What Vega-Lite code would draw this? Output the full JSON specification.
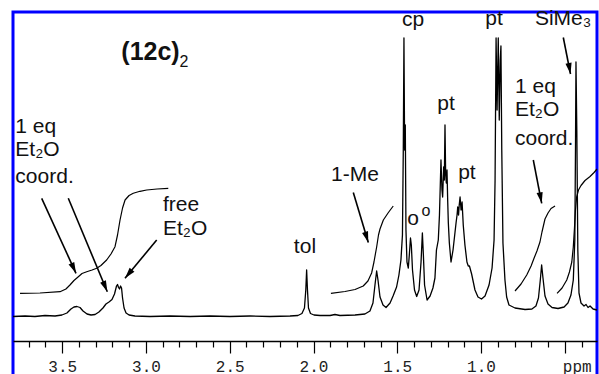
{
  "$schema": "https://vega.github.io/schema/vega-lite/v6.json",
  "width": 584,
  "height": 370,
  "autosize": {"type": "none"},
  "padding": {"left": 13, "top": 12, "right": 2, "bottom": 0},
  "background": "white",
  "config": {
    "view": {"stroke": "#0000ff", "strokeWidth": 3},
    "text": {"font": "Liberation Sans", "color": "#111"}
  },
  "datasets": {
    "spec": [
      {"ppm": 3.794, "int": -0.5}, {"ppm": 3.722, "int": 0}, {"ppm": 3.663, "int": -0.5}, {"ppm": 3.603, "int": 0.5},
      {"ppm": 3.543, "int": 0}, {"ppm": 3.502, "int": 1}, {"ppm": 3.472, "int": 3}, {"ppm": 3.448, "int": 7},
      {"ppm": 3.430, "int": 9}, {"ppm": 3.412, "int": 9.5}, {"ppm": 3.394, "int": 8.5}, {"ppm": 3.376, "int": 5},
      {"ppm": 3.352, "int": 2}, {"ppm": 3.328, "int": 1}, {"ppm": 3.304, "int": 1.5}, {"ppm": 3.281, "int": 4},
      {"ppm": 3.257, "int": 8}, {"ppm": 3.239, "int": 12}, {"ppm": 3.221, "int": 14}, {"ppm": 3.203, "int": 16.5},
      {"ppm": 3.188, "int": 22}, {"ppm": 3.176, "int": 30}, {"ppm": 3.170, "int": 31.5}, {"ppm": 3.164, "int": 28.5},
      {"ppm": 3.158, "int": 27}, {"ppm": 3.152, "int": 30}, {"ppm": 3.146, "int": 28}, {"ppm": 3.140, "int": 18},
      {"ppm": 3.131, "int": 8}, {"ppm": 3.119, "int": 3}, {"ppm": 3.101, "int": 1}, {"ppm": 3.066, "int": 0},
      {"ppm": 2.976, "int": -0.5}, {"ppm": 2.857, "int": 0}, {"ppm": 2.737, "int": -0.5}, {"ppm": 2.618, "int": 0},
      {"ppm": 2.499, "int": -0.5}, {"ppm": 2.379, "int": 0}, {"ppm": 2.260, "int": -0.5}, {"ppm": 2.140, "int": 0},
      {"ppm": 2.093, "int": 0.5}, {"ppm": 2.069, "int": 2.5}, {"ppm": 2.054, "int": 8}, {"ppm": 2.046, "int": 26},
      {"ppm": 2.041, "int": 46}, {"ppm": 2.036, "int": 26}, {"ppm": 2.030, "int": 8}, {"ppm": 2.018, "int": 2.5},
      {"ppm": 1.997, "int": 1}, {"ppm": 1.961, "int": 0.5}, {"ppm": 1.901, "int": 0.5}, {"ppm": 1.872, "int": 1.5},
      {"ppm": 1.842, "int": 0.5}, {"ppm": 1.752, "int": 1}, {"ppm": 1.693, "int": 2}, {"ppm": 1.663, "int": 5},
      {"ppm": 1.645, "int": 13}, {"ppm": 1.633, "int": 31}, {"ppm": 1.623, "int": 45}, {"ppm": 1.615, "int": 36},
      {"ppm": 1.603, "int": 19}, {"ppm": 1.585, "int": 11}, {"ppm": 1.567, "int": 8.5}, {"ppm": 1.543, "int": 13},
      {"ppm": 1.525, "int": 20}, {"ppm": 1.504, "int": 29}, {"ppm": 1.490, "int": 41}, {"ppm": 1.478, "int": 56},
      {"ppm": 1.469, "int": 81}, {"ppm": 1.464, "int": 166}, {"ppm": 1.460, "int": 278}, {"ppm": 1.456, "int": 166},
      {"ppm": 1.452, "int": 191}, {"ppm": 1.448, "int": 86}, {"ppm": 1.442, "int": 54}, {"ppm": 1.434, "int": 48},
      {"ppm": 1.428, "int": 61}, {"ppm": 1.421, "int": 78}, {"ppm": 1.416, "int": 71}, {"ppm": 1.409, "int": 46},
      {"ppm": 1.397, "int": 26}, {"ppm": 1.384, "int": 19.5}, {"ppm": 1.370, "int": 26}, {"ppm": 1.358, "int": 54},
      {"ppm": 1.350, "int": 83}, {"ppm": 1.344, "int": 61}, {"ppm": 1.337, "int": 31}, {"ppm": 1.322, "int": 16},
      {"ppm": 1.304, "int": 20}, {"ppm": 1.287, "int": 28}, {"ppm": 1.275, "int": 38}, {"ppm": 1.266, "int": 66},
      {"ppm": 1.255, "int": 76}, {"ppm": 1.248, "int": 101}, {"ppm": 1.239, "int": 156}, {"ppm": 1.233, "int": 126},
      {"ppm": 1.229, "int": 119}, {"ppm": 1.223, "int": 149}, {"ppm": 1.219, "int": 136}, {"ppm": 1.215, "int": 191},
      {"ppm": 1.211, "int": 141}, {"ppm": 1.207, "int": 133}, {"ppm": 1.203, "int": 146}, {"ppm": 1.199, "int": 116},
      {"ppm": 1.195, "int": 93}, {"ppm": 1.189, "int": 73}, {"ppm": 1.179, "int": 54}, {"ppm": 1.167, "int": 66},
      {"ppm": 1.155, "int": 84}, {"ppm": 1.149, "int": 93}, {"ppm": 1.143, "int": 101}, {"ppm": 1.139, "int": 109},
      {"ppm": 1.134, "int": 101}, {"ppm": 1.130, "int": 111}, {"ppm": 1.125, "int": 119}, {"ppm": 1.119, "int": 106},
      {"ppm": 1.113, "int": 114}, {"ppm": 1.106, "int": 91}, {"ppm": 1.096, "int": 71}, {"ppm": 1.084, "int": 54},
      {"ppm": 1.076, "int": 50}, {"ppm": 1.069, "int": 50}, {"ppm": 1.056, "int": 42}, {"ppm": 1.036, "int": 26},
      {"ppm": 1.018, "int": 19}, {"ppm": 0.997, "int": 17}, {"ppm": 0.976, "int": 20}, {"ppm": 0.952, "int": 31},
      {"ppm": 0.934, "int": 48}, {"ppm": 0.922, "int": 76}, {"ppm": 0.916, "int": 136}, {"ppm": 0.910, "int": 278},
      {"ppm": 0.904, "int": 206}, {"ppm": 0.897, "int": 278}, {"ppm": 0.891, "int": 196}, {"ppm": 0.885, "int": 256},
      {"ppm": 0.881, "int": 270}, {"ppm": 0.876, "int": 166}, {"ppm": 0.869, "int": 73}, {"ppm": 0.857, "int": 36},
      {"ppm": 0.847, "int": 19}, {"ppm": 0.833, "int": 11}, {"ppm": 0.797, "int": 8}, {"ppm": 0.737, "int": 6.5},
      {"ppm": 0.696, "int": 7}, {"ppm": 0.672, "int": 10}, {"ppm": 0.657, "int": 18}, {"ppm": 0.646, "int": 36},
      {"ppm": 0.638, "int": 51}, {"ppm": 0.630, "int": 38}, {"ppm": 0.618, "int": 20}, {"ppm": 0.600, "int": 12},
      {"ppm": 0.576, "int": 8.5}, {"ppm": 0.540, "int": 7.5}, {"ppm": 0.504, "int": 9}, {"ppm": 0.481, "int": 13},
      {"ppm": 0.463, "int": 21}, {"ppm": 0.449, "int": 36}, {"ppm": 0.440, "int": 76}, {"ppm": 0.436, "int": 166},
      {"ppm": 0.433, "int": 254}, {"ppm": 0.428, "int": 186}, {"ppm": 0.422, "int": 66}, {"ppm": 0.415, "int": 23},
      {"ppm": 0.403, "int": 13}, {"ppm": 0.385, "int": 10}, {"ppm": 0.373, "int": 11.5}, {"ppm": 0.361, "int": 8.5},
      {"ppm": 0.349, "int": 10}, {"ppm": 0.331, "int": 7}, {"ppm": 0.3075, "int": 6}
    ],
    "integ": [
      {"seg": "a", "ppm": 3.752, "int": 22.7}, {"seg": "a", "ppm": 3.633, "int": 23}, {"seg": "a", "ppm": 3.513, "int": 24.3},
      {"seg": "a", "ppm": 3.478, "int": 27}, {"seg": "a", "ppm": 3.454, "int": 31}, {"seg": "a", "ppm": 3.430, "int": 35.5},
      {"seg": "a", "ppm": 3.404, "int": 39.3}, {"seg": "a", "ppm": 3.382, "int": 42.5}, {"seg": "a", "ppm": 3.354, "int": 44.3},
      {"seg": "a", "ppm": 3.322, "int": 46}, {"seg": "a", "ppm": 3.294, "int": 47.7}, {"seg": "a", "ppm": 3.269, "int": 50.5},
      {"seg": "a", "ppm": 3.235, "int": 56}, {"seg": "a", "ppm": 3.209, "int": 62}, {"seg": "a", "ppm": 3.185, "int": 69.3},
      {"seg": "a", "ppm": 3.170, "int": 81}, {"seg": "a", "ppm": 3.155, "int": 96}, {"seg": "a", "ppm": 3.140, "int": 108},
      {"seg": "a", "ppm": 3.125, "int": 116}, {"seg": "a", "ppm": 3.101, "int": 120.5}, {"seg": "a", "ppm": 3.076, "int": 122.7},
      {"seg": "a", "ppm": 3.036, "int": 124.7}, {"seg": "a", "ppm": 2.996, "int": 126}, {"seg": "a", "ppm": 2.934, "int": 127},
      {"seg": "a", "ppm": 2.867, "int": 127.7},
      {"seg": "b", "ppm": 1.896, "int": 22.7}, {"seg": "b", "ppm": 1.812, "int": 24.5}, {"seg": "b", "ppm": 1.752, "int": 26.5},
      {"seg": "b", "ppm": 1.703, "int": 30}, {"seg": "b", "ppm": 1.675, "int": 35}, {"seg": "b", "ppm": 1.653, "int": 43},
      {"seg": "b", "ppm": 1.639, "int": 54}, {"seg": "b", "ppm": 1.623, "int": 69}, {"seg": "b", "ppm": 1.612, "int": 81},
      {"seg": "b", "ppm": 1.603, "int": 87}, {"seg": "b", "ppm": 1.583, "int": 96}, {"seg": "b", "ppm": 1.555, "int": 103},
      {"seg": "b", "ppm": 1.524, "int": 110},
      {"seg": "c", "ppm": 0.797, "int": 25}, {"seg": "c", "ppm": 0.761, "int": 32}, {"seg": "c", "ppm": 0.727, "int": 41},
      {"seg": "c", "ppm": 0.701, "int": 50}, {"seg": "c", "ppm": 0.684, "int": 57.5}, {"seg": "c", "ppm": 0.666, "int": 65},
      {"seg": "c", "ppm": 0.648, "int": 74}, {"seg": "c", "ppm": 0.636, "int": 84}, {"seg": "c", "ppm": 0.618, "int": 97},
      {"seg": "c", "ppm": 0.600, "int": 103}, {"seg": "c", "ppm": 0.582, "int": 107.5}, {"seg": "c", "ppm": 0.558, "int": 110},
      {"seg": "d", "ppm": 0.546, "int": 22.7}, {"seg": "d", "ppm": 0.516, "int": 28}, {"seg": "d", "ppm": 0.488, "int": 36},
      {"seg": "d", "ppm": 0.472, "int": 44}, {"seg": "d", "ppm": 0.458, "int": 54}, {"seg": "d", "ppm": 0.449, "int": 69},
      {"seg": "d", "ppm": 0.442, "int": 88}, {"seg": "d", "ppm": 0.436, "int": 106}, {"seg": "d", "ppm": 0.429, "int": 119},
      {"seg": "d", "ppm": 0.418, "int": 126}, {"seg": "d", "ppm": 0.403, "int": 130.5}, {"seg": "d", "ppm": 0.379, "int": 135.5},
      {"seg": "d", "ppm": 0.349, "int": 139.5}, {"seg": "d", "ppm": 0.325, "int": 143.5}, {"seg": "d", "ppm": 0.3075, "int": 147}
    ],
    "arrows": [
      {"ppm": 3.6227, "int": 117.7, "ppm2": 3.4179, "int2": 42.7, "angle": 155.4},
      {"ppm": 3.4639, "int": 117.7, "ppm2": 3.2310, "int2": 24.3, "angle": 157.3},
      {"ppm": 2.9361, "int": 76, "ppm2": 3.1254, "int2": 37.7, "angle": 219.6},
      {"ppm": 1.7624, "int": 123.5, "ppm2": 1.6728, "int2": 73.5, "angle": 162.8},
      {"ppm": 0.6878, "int": 156, "ppm2": 0.6376, "int2": 112.7, "angle": 169},
      {"ppm": 0.5087, "int": 278.5, "ppm2": 0.4657, "int2": 242, "angle": 169.7}
    ],
    "leftLabels": [
      {"ppm": 3.78, "int": 183, "label": "1 eq"},
      {"ppm": 3.78, "int": 160, "label": "Et₂O"},
      {"ppm": 3.78, "int": 133, "label": "coord."},
      {"ppm": 2.8985, "int": 105, "label": "free"},
      {"ppm": 2.8985, "int": 81, "label": "Et₂O"},
      {"ppm": 0.797, "int": 223, "label": "1 eq"},
      {"ppm": 0.797, "int": 200, "label": "Et₂O"},
      {"ppm": 0.797, "int": 171, "label": "coord."}
    ],
    "centerLabels": [
      {"ppm": 2.051, "int": 63, "label": "tol"},
      {"ppm": 1.752, "int": 135, "label": "1-Me"},
      {"ppm": 1.406, "int": 290, "label": "cp"},
      {"ppm": 1.209, "int": 206, "label": "pt"},
      {"ppm": 1.084, "int": 137, "label": "pt"},
      {"ppm": 0.922, "int": 291, "label": "pt"},
      {"ppm": 0.510, "int": 291, "label": "SiMe₃"},
      {"ppm": 1.406, "int": 91, "label": "o"}
    ],
    "smallLabels": [
      {"ppm": 1.328, "int": 100, "label": "o"},
      {"ppm": 2.773, "int": 249, "label": "2"}
    ],
    "title": [
      {"ppm": 2.973, "int": 256, "label": "(12c)"}
    ]
  },
  "encoding": {
    "x": {
      "field": "ppm",
      "type": "quantitative",
      "scale": {"domain": [0.3075, 3.794], "reverse": true, "nice": false, "zero": false},
      "axis": {
        "orient": "bottom",
        "offset": -41,
        "title": null,
        "grid": false,
        "values": [3.7, 3.6, 3.5, 3.4, 3.3, 3.2, 3.1, 3.0, 2.9, 2.8, 2.7, 2.6, 2.5, 2.4, 2.3, 2.2, 2.1, 2.0, 1.9, 1.8, 1.7, 1.6, 1.5, 1.4, 1.3, 1.2, 1.1, 1.0, 0.9, 0.8, 0.7, 0.6, 0.5, 0.4],
        "domainColor": "#000",
        "domainWidth": 1.3,
        "tickColor": "#000",
        "tickWidth": 1.2,
        "tickSize": {"condition": {"test": "abs(datum.value*2 - round(datum.value*2)) < 0.01", "value": 12}, "value": 6},
        "labelExpr": "abs(datum.value*2 - round(datum.value*2)) < 0.01 ? (abs(datum.value - 0.5) < 0.01 ? 'ppm' : format(datum.value, '.1f')) : ''",
        "labelOffset": {"condition": {"test": "abs(datum.value - 0.5) < 0.01", "value": 12}, "value": 0},
        "labelFont": "Liberation Mono",
        "labelFontSize": 16,
        "labelColor": "#222",
        "labelPadding": 5,
        "labelOverlap": false,
        "labelFlush": false,
        "labelBound": false
      }
    },
    "y": {
      "field": "int",
      "type": "quantitative",
      "scale": {"domain": [-66, 304], "nice": false, "zero": false},
      "axis": null
    }
  },
  "layer": [
    {
      "data": {"name": "spec"},
      "mark": {"type": "line", "color": "#000", "strokeWidth": 1.3, "strokeJoin": "round"}
    },
    {
      "data": {"name": "integ"},
      "mark": {"type": "line", "color": "#000", "strokeWidth": 1.2, "strokeJoin": "round"},
      "encoding": {"detail": {"field": "seg", "type": "nominal"}}
    },
    {
      "data": {"name": "arrows"},
      "mark": {"type": "rule", "color": "#000", "strokeWidth": 1.6},
      "encoding": {
        "x2": {"field": "ppm2"},
        "y2": {"field": "int2"}
      }
    },
    {
      "data": {"name": "arrows"},
      "mark": {"type": "point", "shape": "M0,0L0.45,1.6L-0.45,1.6Z", "filled": true, "color": "#000", "opacity": 1, "size": 190},
      "encoding": {
        "x": {"field": "ppm2", "type": "quantitative"},
        "y": {"field": "int2", "type": "quantitative"},
        "angle": {"field": "angle", "type": "quantitative", "scale": null}
      }
    },
    {
      "data": {"name": "leftLabels"},
      "mark": {"type": "text", "align": "left", "baseline": "alphabetic", "fontSize": 21},
      "encoding": {"text": {"field": "label"}}
    },
    {
      "data": {"name": "centerLabels"},
      "mark": {"type": "text", "align": "center", "baseline": "alphabetic", "fontSize": 21},
      "encoding": {"text": {"field": "label"}}
    },
    {
      "data": {"name": "smallLabels"},
      "mark": {"type": "text", "align": "center", "baseline": "alphabetic", "fontSize": 16},
      "encoding": {"text": {"field": "label"}}
    },
    {
      "data": {"name": "title"},
      "mark": {"type": "text", "align": "center", "baseline": "alphabetic", "fontSize": 25, "fontWeight": "bold"},
      "encoding": {"text": {"field": "label"}}
    }
  ]
}
